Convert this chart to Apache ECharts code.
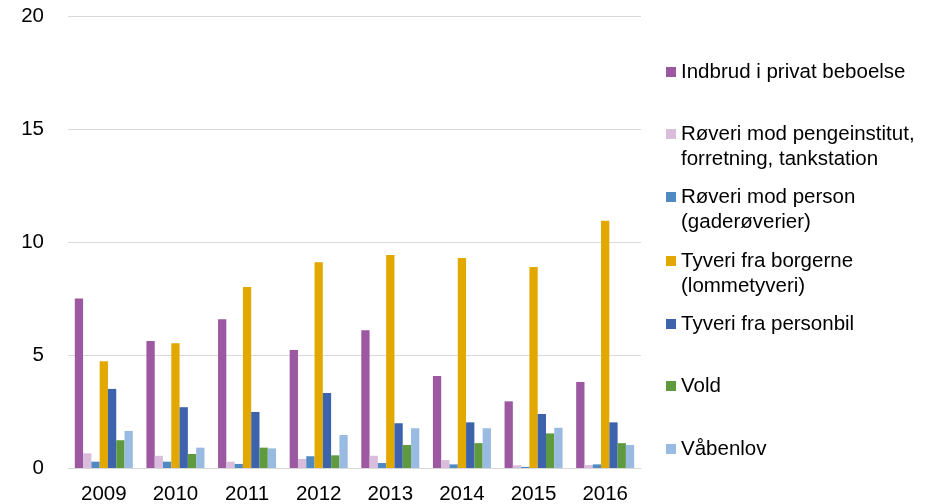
<!DOCTYPE html>
<html><head><meta charset="utf-8">
<script src="https://cdn.jsdelivr.net/npm/echarts@6/dist/echarts.min.js"></script>
<style>html,body{margin:0;padding:0;background:#fff}#c{width:942px;height:504px}</style>
</head><body><div id="c"></div>
<script>
const years = ['2009','2010','2011','2012','2013','2014','2015','2016'];
const seriesNames = ['Indbrud i privat beboelse','Røveri mod pengeinstitut,\nforretning, tankstation','Røveri mod person\n(gaderøverier)','Tyveri fra borgerne\n(lommetyveri)','Tyveri fra personbil','Vold','Våbenlov'];
const indbrud     = [7.5, 5.62, 6.58, 5.22, 6.09, 4.07, 2.95, 3.81];
const roveriPeng  = [0.65, 0.54, 0.28, 0.4, 0.54, 0.35, 0.12, 0.13];
const roveriPers  = [0.28, 0.28, 0.18, 0.52, 0.22, 0.16, 0.05, 0.16];
const tyveriBorg  = [4.72, 5.52, 8.01, 9.1, 9.42, 9.29, 8.89, 10.94];
const tyveriBil   = [3.5, 2.69, 2.48, 3.32, 1.98, 2.02, 2.39, 2.02];
const vold        = [1.23, 0.62, 0.9, 0.56, 1.02, 1.1, 1.53, 1.1];
const vaaben      = [1.64, 0.9, 0.87, 1.46, 1.76, 1.76, 1.78, 1.02];
const yTicks = [0, 5, 10, 15, 20];

const colors = ['#9C58A0','#DABDDC','#4F8AC3','#E2A800','#3D63AD','#5F9A3E','#99BBE1'];
const allData = [indbrud, roveriPeng, roveriPers, tyveriBorg, tyveriBil, vold, vaaben];
// first-line centre y of each legend entry
const legendCentres = [72, 134, 197, 261, 324, 386, 449];
const font = 'Liberation Sans, Arial, sans-serif';
const FS = 20.5;
const LH = 25;
// square in the top part of a taller icon box, so it lines up with the first text line
const topSquare = 'path://M0,0L10,0L10,10L0,10Z M0,35L10,35L10,35.01L0,35.01Z';

const chart = echarts.init(document.getElementById('c'));
chart.setOption({
  animation: false,
  color: colors,
  grid: {left: 68, right: 301, top: 16, bottom: 36, containLabel: false, outerBoundsMode: 'none'},
  xAxis: {
    type: 'category', data: years,
    axisLine: {show: true, lineStyle: {color: '#d9d9d9', width: 1}},
    axisTick: {show: false},
    axisLabel: {color: '#000', fontSize: FS, fontFamily: font, margin: 16}
  },
  yAxis: {
    type: 'value', min: yTicks[0], max: yTicks[yTicks.length-1], interval: 5,
    axisLine: {show: false}, axisTick: {show: false},
    splitLine: {lineStyle: {color: '#d9d9d9', width: 1}},
    axisLabel: {color: '#000', fontSize: FS, fontFamily: font, margin: 24}
  },
  legend: seriesNames.map((n, i) => {
    const two = n.indexOf('\n') >= 0;
    return {
      data: [n], orient: 'vertical', left: 666,
      top: legendCentres[i] - LH / 2,
      itemWidth: 10, itemHeight: two ? 35 : 10, itemGap: 0,
      icon: two ? topSquare : 'rect',
      textStyle: {color: '#000', fontSize: FS, fontFamily: font, lineHeight: LH},
      padding: 0
    };
  }),
  series: seriesNames.map((n, i) => ({
    name: n, type: 'bar', data: allData[i],
    barGap: '0%', barCategoryGap: '19%',
    itemStyle: {color: colors[i]}
  }))
});
</script></body></html>
